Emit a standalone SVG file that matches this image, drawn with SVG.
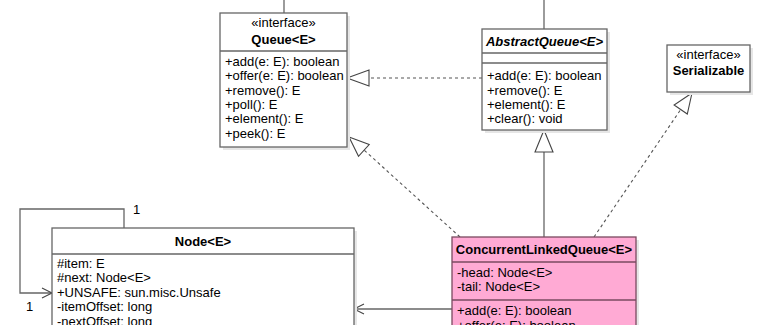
<svg xmlns="http://www.w3.org/2000/svg" width="765" height="325" viewBox="0 0 765 325">
<style>
text{font-family:"Liberation Sans",Arial,sans-serif;font-size:13px;fill:#000}
.c{text-anchor:middle}
.b{font-weight:bold}
.i{font-style:italic}
.box{fill:#fff;stroke:#666;stroke-width:1.3}
.sh{fill:#e6e6e6;stroke:none}
.ln{stroke:#666;stroke-width:1.3;fill:none}
.pk{fill:#ffaad4;stroke:#7a4a60;stroke-width:1.3}
.pl{stroke:#7a4a60;stroke-width:1.3}
.e{fill:none;stroke:#555;stroke-width:1.1}
.d{stroke-dasharray:3,3}
.tri{fill:#fff;stroke:#444;stroke-width:1.1}
.op{fill:none;stroke:#444;stroke-width:1.1}
</style>
<g id="connectors">
  <!-- top stubs -->
  <line class="ln" x1="284" y1="0" x2="284" y2="13"/>
  <line class="ln" x1="544" y1="0" x2="544" y2="29"/>
  <!-- AbstractQueue realizes Queue -->
  <line class="e d" x1="482" y1="78" x2="369" y2="78"/>
  <polygon class="tri" points="347,78 369,70 369,86"/>
  <!-- CLQ realizes Queue -->
  <line class="e d" x1="460" y1="237" x2="364" y2="150"/>
  <polygon class="tri" points="349,137 369.2,144.5 358.5,156.3"/>
  <!-- CLQ extends AbstractQueue -->
  <line class="ln" x1="544" y1="237" x2="544" y2="152"/>
  <polygon class="tri" points="544,130 535,152 553,152"/>
  <!-- CLQ realizes Serializable -->
  <line class="e d" x1="594" y1="237" x2="680.7" y2="109.5"/>
  <polygon class="tri" points="692,93 687.3,114 674.1,105"/>
  <!-- CLQ -> Node -->
  <line class="ln" x1="452" y1="309" x2="355" y2="309"/>
  <polyline class="op" points="364,304 354,309 364,314"/>
  <!-- Node self association -->
  <polyline class="ln" points="124,228 124,209 20,209 20,293 52,293"/>
  <polyline class="op" points="42,288 52,293 42,298"/>
  <text x="133" y="214">1</text>
  <text x="26" y="311">1</text>
</g>
<g id="Queue">
  <rect class="sh" x="223" y="16" width="127" height="134"/>
  <rect class="box" x="220" y="13" width="127" height="134"/>
  <line class="ln" x1="220" y1="51" x2="347" y2="51"/>
  <text class="c" x="283.5" y="27">«interface»</text>
  <text class="c b" x="283.5" y="44">Queue&lt;E&gt;</text>
  <text x="225" y="65.7">+add(e: E): boolean</text>
  <text x="225" y="80.1">+offer(e: E): boolean</text>
  <text x="225" y="94.5">+remove(): E</text>
  <text x="225" y="108.9">+poll(): E</text>
  <text x="225" y="123.3">+element(): E</text>
  <text x="225" y="137.7">+peek(): E</text>
</g>
<g id="AbstractQueue">
  <rect class="sh" x="485" y="32" width="125" height="101"/>
  <rect class="box" x="482" y="29" width="125" height="101"/>
  <line class="ln" x1="482" y1="53" x2="607" y2="53"/>
  <line class="ln" x1="482" y1="63" x2="607" y2="63"/>
  <text class="c b i" x="544.5" y="45.5">AbstractQueue&lt;E&gt;</text>
  <text x="487" y="80.1">+add(e: E): boolean</text>
  <text x="487" y="94.5">+remove(): E</text>
  <text x="487" y="108.9">+element(): E</text>
  <text x="487" y="123.3">+clear(): void</text>
</g>
<g id="Serializable">
  <rect class="sh" x="670" y="48" width="83" height="47"/>
  <rect class="box" x="667" y="45" width="83" height="47"/>
  <text class="c" x="708.5" y="58.5">«interface»</text>
  <text class="c b" x="708.5" y="75">Serializable</text>
</g>
<g id="Node">
  <rect class="sh" x="55" y="231" width="302" height="110"/>
  <rect class="box" x="52" y="228" width="302" height="110"/>
  <line class="ln" x1="52" y1="254" x2="354" y2="254"/>
  <text class="c b" x="203" y="245.5">Node&lt;E&gt;</text>
  <text x="57" y="267.7">#item: E</text>
  <text x="57" y="282.2">#next: Node&lt;E&gt;</text>
  <text x="57" y="296.9">+UNSAFE: sun.misc.Unsafe</text>
  <text x="57" y="311.4">-itemOffset: long</text>
  <text x="57" y="326">-nextOffset: long</text>
</g>
<g id="ConcurrentLinkedQueue">
  <rect class="sh" x="455" y="240" width="184" height="100"/>
  <rect class="pk" x="452" y="237" width="184" height="100"/>
  <line class="pl" x1="452" y1="262" x2="636" y2="262"/>
  <line class="pl" x1="452" y1="300" x2="636" y2="300"/>
  <text class="c b" x="544" y="253.5">ConcurrentLinkedQueue&lt;E&gt;</text>
  <text x="457" y="276.7">-head: Node&lt;E&gt;</text>
  <text x="457" y="291">-tail: Node&lt;E&gt;</text>
  <text x="457" y="315">+add(e: E): boolean</text>
  <text x="457" y="329.5">+offer(e: E): boolean</text>
</g>
</svg>
